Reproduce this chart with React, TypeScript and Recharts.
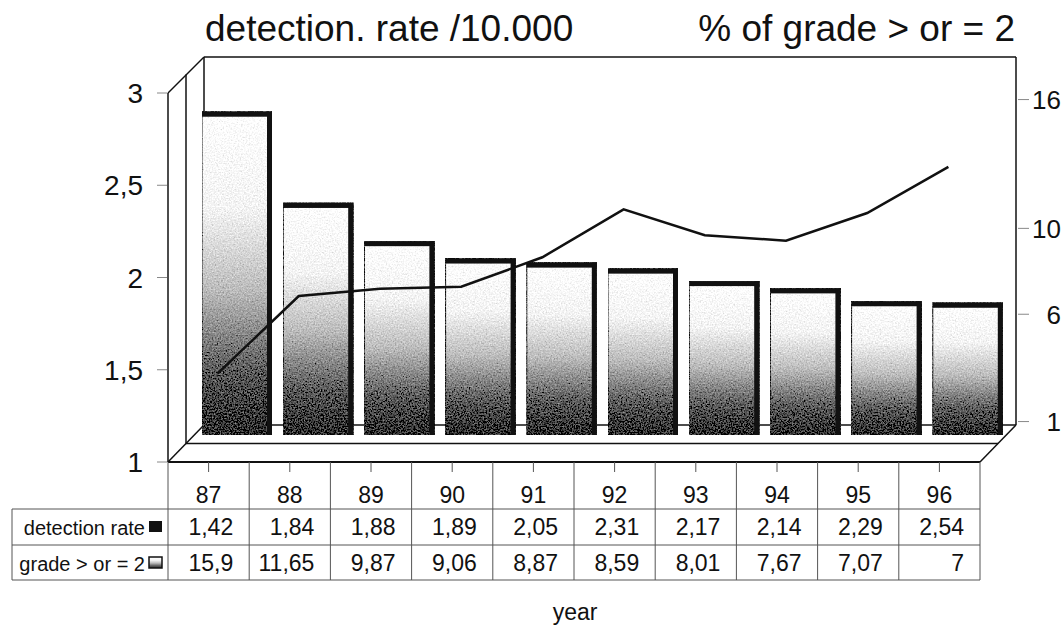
import { ComposedChart, Bar, Line, XAxis, YAxis, Customized } from 'recharts';

document.body.style.margin = '0';

const years = ['87', '88', '89', '90', '91', '92', '93', '94', '95', '96'];
const detectionRate = [1.42, 1.84, 1.88, 1.89, 2.05, 2.31, 2.17, 2.14, 2.29, 2.54];
const gradeTwoPlus = [15.9, 11.65, 9.87, 9.06, 8.87, 8.59, 8.01, 7.67, 7.07, 7];
const leftTicks = [1, 1.5, 2, 2.5, 3];
const rightTicks = [1, 6, 10, 16];
const titleLeft = 'detection. rate /10.000';
const titleRight = '% of grade > or = 2';
const rowLabels = ['detection rate', 'grade > or = 2'];
const xLabel = 'year';

const data = years.map((year, i) => ({ year, detection: detectionRate[i], grade: gradeTwoPlus[i] }));

// layout (px) - front face of the 3D box
const W = 1063;
const H = 627;
const PL = 168;
const PR = 980;
const PT = 93;
const PB = 462;
const DX = 36; // depth of the box
const DY = 37;
const COL_W = (PR - PL) / years.length;
const ROW1 = 509;
const ROW2 = 545;
const ROW3 = 580;
const FONT = '"Liberation Sans", Arial, sans-serif';
const GRID = '#555';

const fmt = (v: number) => String(v).replace('.', ',');

function Frame() {
  const ln = (x1: number, y1: number, x2: number, y2: number, w = 1.5, c = '#111') => (
    <line x1={x1} y1={y1} x2={x2} y2={y2} stroke={c} strokeWidth={w} />
  );
  return (
    <g>
      <defs>
        <linearGradient id="barGrad" x1="0" y1="0" x2="0" y2="1">
          <stop offset="0" stopColor="#ffffff" />
          <stop offset="0.3" stopColor="#f4f4f4" />
          <stop offset="0.55" stopColor="#bdbdbd" />
          <stop offset="0.8" stopColor="#5e5e5e" />
          <stop offset="1" stopColor="#2c2c2c" />
        </linearGradient>
        <filter id="grain" x="0" y="0" width="1" height="1">
          <feTurbulence type="fractalNoise" baseFrequency="0.65" numOctaves="2" seed="4" result="noise" />
          <feColorMatrix
            in="noise"
            type="matrix"
            values="0.33 0.33 0.33 0 0  0.33 0.33 0.33 0 0  0.33 0.33 0.33 0 0  0 0 0 0 1"
            result="gray"
          />
          <feComposite in="SourceGraphic" in2="gray" operator="arithmetic" k1="0" k2="1" k3="1" k4="-0.5" result="mix" />
          <feComposite in="mix" in2="SourceGraphic" operator="in" />
        </filter>
      </defs>

      {/* titles */}
      <text x={205} y={41} fontFamily={FONT} fontSize={37} fill="#111">{titleLeft}</text>
      <text x={1015} y={41} fontFamily={FONT} fontSize={37} fill="#111" textAnchor="end">{titleRight}</text>

      {/* back wall */}
      {ln(PL + DX, PT - DY + 1, PR + DX, PT - DY + 1)}
      {ln(PR + DX, PT - DY + 1, PR + DX, PB - DY)}
      {ln(PL + DX, PT - DY + 1, PL + DX, PB - DY)}
      {ln(PL + DX, PB - DY, PR + DX, PB - DY)}
      {/* left wall */}
      {ln(PL, PT, PL, PB)}
      {ln(PL + DX / 2, PT - DY / 2, PL + DX / 2, PB - DY / 2)}
      {ln(PL, PT, PL + DX, PT - DY + 1)}
      {ln(PL, PB, PL + DX, PB - DY)}
      {/* floor */}
      {ln(PL, PB, PR, PB, 2)}
      {ln(PL + DX / 2, PB - DY / 2, PR + DX / 2, PB - DY / 2)}
      {ln(PR, PB, PR + DX, PB - DY)}

      {/* data table frame */}
      {ln(12, ROW1, PR, ROW1, 1, GRID)}
      {ln(12, ROW2, PR, ROW2, 1, GRID)}
      {ln(12, ROW3, PR, ROW3, 1, GRID)}
      {ln(12, ROW1, 12, ROW3, 1, GRID)}
      <text x={145} y={535} fontFamily={FONT} fontSize={20} fill="#111" textAnchor="end">{rowLabels[0]}</text>
      <rect x={149} y={521} width={13} height={11} fill="#111" />
      <text x={145} y={571} fontFamily={FONT} fontSize={20} fill="#111" textAnchor="end">{rowLabels[1]}</text>
      <rect x={149} y={557} width={13} height={11} fill="url(#barGrad)" stroke="#111" strokeWidth={1.5} />
      <text x={575} y={620} fontFamily={FONT} fontSize={23} fill="#111" textAnchor="middle">{xLabel}</text>
    </g>
  );
}

function Bar3D(props: any) {
  const { x, y, width, height } = props;
  if (height == null || height <= 0) return null;
  const bx = x + 28;
  const by = y - 27;
  return (
    <g>
      <rect x={bx} y={by} width={width} height={height} fill="url(#barGrad)" filter="url(#grain)" stroke="#222" strokeWidth={1} />
      <rect x={bx} y={by} width={width} height={5} fill="#111" />
      <rect x={bx + width - 5} y={by} width={5} height={height} fill="#111" />
    </g>
  );
}

function YearCell(props: any) {
  const { x, payload } = props;
  const i = payload.index;
  const right = x + COL_W / 2;
  const left = x - COL_W / 2;
  return (
    <g>
      <line x1={x} x2={x} y1={PB} y2={PB + 10} stroke={GRID} />
      <line x1={right} x2={right} y1={PB} y2={ROW3} stroke={GRID} />
      {i === 0 && <line x1={left} x2={left} y1={PB} y2={ROW3} stroke={GRID} />}
      <text x={x} y={503} fontFamily={FONT} fontSize={23} fill="#111" textAnchor="middle">{years[i]}</text>
      <text x={right - 16} y={535} fontFamily={FONT} fontSize={23} fill="#111" textAnchor="end">{fmt(detectionRate[i])}</text>
      <text x={right - 16} y={571} fontFamily={FONT} fontSize={23} fill="#111" textAnchor="end">{fmt(gradeTwoPlus[i])}</text>
    </g>
  );
}

function LeftTick(props: any) {
  const { y, payload } = props;
  return (
    <g>
      <line x1={PL - 11} x2={PL - 1} y1={y} y2={y} stroke="#888" />
      <text x={143} y={y + 10} fontFamily={FONT} fontSize={28} fill="#111" textAnchor="end">{fmt(payload.value)}</text>
    </g>
  );
}

function RightTick(props: any) {
  const { y, payload } = props;
  const ty = y - DY;
  return (
    <g>
      <line x1={PR + DX + 2} x2={PR + DX + 13} y1={ty} y2={ty} stroke="#888" />
      <text x={1061} y={ty + 9.5} fontFamily={FONT} fontSize={26} fill="#111" textAnchor="end">{fmt(payload.value)}</text>
    </g>
  );
}

export default function App() {
  return (
    <div style={{ width: W, height: H, background: '#fff', overflow: 'hidden' }}>
      <ComposedChart
        width={W}
        height={H}
        data={data}
        margin={{ top: PT, left: PL - 60, right: W - PR - 60, bottom: H - PB - 40 }}
      >
        <Customized component={<Frame />} />
        <XAxis xAxisId="main" dataKey="year" height={40} axisLine={false} tickLine={false} interval={0} tick={<YearCell />} />
        <XAxis xAxisId="line" dataKey="year" hide padding={{ left: 9, right: -9 }} />
        <YAxis
          yAxisId="left"
          type="number"
          domain={[1, 3]}
          ticks={leftTicks}
          width={60}
          axisLine={false}
          tickLine={false}
          allowDataOverflow
          tick={<LeftTick />}
        />
        <YAxis
          yAxisId="right"
          orientation="right"
          type="number"
          domain={[0.84, 18.03]}
          ticks={rightTicks}
          width={60}
          axisLine={false}
          tickLine={false}
          allowDataOverflow
          tick={<RightTick />}
        />
        <YAxis yAxisId="line" type="number" hide domain={[0.9404, 2.9404]} allowDataOverflow />
        <Bar
          xAxisId="main"
          yAxisId="right"
          dataKey="grade"
          barSize={70}
          shape={<Bar3D />}
          isAnimationActive={false}
        />
        <Line
          xAxisId="line"
          yAxisId="line"
          dataKey="detection"
          type="linear"
          stroke="#111"
          strokeWidth={2.5}
          dot={false}
          activeDot={false}
          isAnimationActive={false}
        />
      </ComposedChart>
    </div>
  );
}
